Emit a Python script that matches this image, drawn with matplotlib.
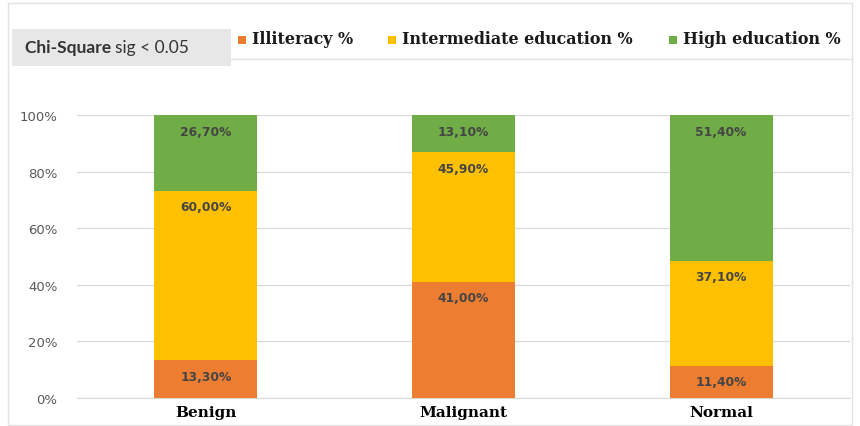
import matplotlib.pyplot as plt
from matplotlib.patches import Rectangle
from matplotlib.lines import Line2D

categories = ["Benign", "Malignant", "Normal"]
illiteracy = [13.3, 41.0, 11.4]
intermediate = [60.0, 45.9, 37.1]
high = [26.7, 13.1, 51.4]
series_names = ["Illiteracy %", "Intermediate education %", "High education %"]
yticks = [0, 20, 40, 60, 80, 100]

colors = ["#ED7D31", "#FFC000", "#70AD47"]

W, H = 860, 427
fig = plt.figure(figsize=(W / 100, H / 100), dpi=100)
fig.patch.set_facecolor("white")

def fx(px):
    return px / W

def fy(py):
    return 1 - py / H

ax = fig.add_axes([fx(77), fy(399), fx(850) - fx(77), fy(116) - fy(399)])

x = range(len(categories))
series = [illiteracy, intermediate, high]
bottoms = [0.0] * len(categories)
containers = []
for vals, col, name in zip(series, colors, series_names):
    bc = ax.bar(x, vals, width=0.4, bottom=bottoms, color=col, label=name, zorder=3)
    containers.append(bc)
    for xi, v, b in zip(x, vals, bottoms):
        ax.annotate(f"{v:.2f}%".replace(".", ","), xy=(xi, b + v), xytext=(0, -16),
                    textcoords="offset pixels", ha="center", va="center",
                    fontsize=8.8, fontweight="bold", color="#454545", zorder=4)
    bottoms = [b + v for b, v in zip(bottoms, vals)]

ax.set_xlim(-0.5, len(categories) - 0.5)
ax.set_ylim(0, 100)
ax.set_yticks(yticks)
ax.set_yticklabels([f"{t}%" for t in yticks], fontsize=9.5, color="#595959")
ax.set_xticks(list(x))
ax.set_xticklabels(categories, fontsize=11, fontweight="bold",
                   family="DejaVu Serif", color="black")
ax.tick_params(axis="both", length=0)
ax.tick_params(axis="y", pad=14)
ax.tick_params(axis="x", pad=5)
ax.grid(axis="y", color="#d9d9d9", linewidth=0.9, zorder=0)
for s in ax.spines.values():
    s.set_visible(False)
ax.spines["bottom"].set_visible(True)
ax.spines["bottom"].set_color("#d9d9d9")

# outer chart border
fig.add_artist(Rectangle((fx(8), fy(426)), fx(852) - fx(8), fy(4) - fy(426),
                         transform=fig.transFigure, fill=False,
                         edgecolor="#e3e3e3", linewidth=1.0))

# shaded note box
fig.add_artist(Rectangle((fx(12), fy(67)), fx(231) - fx(12), fy(30) - fy(67),
                         transform=fig.transFigure, facecolor="#e7e7e7",
                         edgecolor="none"))
t1 = fig.text(fx(25), fy(48), "Chi-Square ", fontsize=12.5, fontweight="bold",
              color="#333333", va="center", ha="left", family="Lato")
fig.canvas.draw()
bb = t1.get_window_extent()
fig.text(bb.x1 / W, fy(48), "sig < 0.05", fontsize=12.5, color="#333333",
         va="center", ha="left", family="Lato")

# separator below the legend
fig.add_artist(Line2D([fx(231), fx(852)], [fy(60), fy(60)], transform=fig.transFigure,
                      color="#e3e3e3", linewidth=1.0))

# legend entries: colour square followed by the series name
marker_x = [238, 388, 669]
for bc, name, mx in zip(containers, series_names, marker_x):
    fc = bc.patches[0].get_facecolor()
    fig.add_artist(Rectangle((fx(mx), fy(45)), fx(8), fy(37) - fy(45),
                             transform=fig.transFigure, facecolor=fc, edgecolor="none"))
    fig.text(fx(mx + 14), fy(40), name, fontsize=11.4, fontweight="bold",
             family="DejaVu Serif", color="#1a1a1a", va="center", ha="left")

fig.savefig("out.png", dpi=100)
